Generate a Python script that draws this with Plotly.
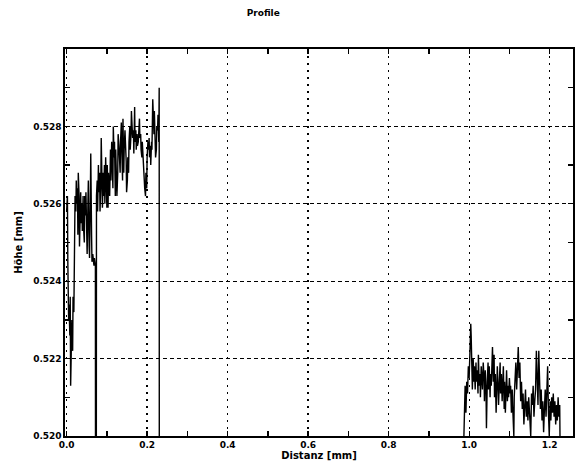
import plotly.graph_objects as go

# Profile data (distance in mm, height in mm); values below 0.520 are off-scale
dist_mm = [
    0.000, 0.002, 0.003, 0.005, 0.006, 0.008, 0.009, 0.010, 0.012, 0.013,
    0.015, 0.016, 0.018, 0.019, 0.020, 0.021, 0.023, 0.024, 0.025, 0.027,
    0.028, 0.029, 0.031, 0.032, 0.034, 0.035, 0.036, 0.038, 0.039, 0.041,
    0.042, 0.044, 0.045, 0.047, 0.048, 0.050, 0.051, 0.053, 0.054, 0.056,
    0.057, 0.059, 0.060, 0.062, 0.063, 0.065, 0.066, 0.068, 0.069, 0.070,
    0.0715, 0.0718, 0.0738, 0.0742, 0.076, 0.077, 0.079, 0.080, 0.082, 0.083,
    0.085, 0.086, 0.088, 0.089, 0.091, 0.092, 0.094, 0.095, 0.097, 0.098,
    0.100, 0.101, 0.103, 0.104, 0.106, 0.107, 0.109, 0.110, 0.112, 0.113,
    0.115, 0.116, 0.118, 0.119, 0.121, 0.122, 0.124, 0.125, 0.127, 0.128,
    0.130, 0.131, 0.133, 0.134, 0.136, 0.137, 0.139, 0.140, 0.142, 0.143,
    0.145, 0.146, 0.148, 0.149, 0.151, 0.152, 0.154, 0.155, 0.157, 0.158,
    0.160, 0.161, 0.163, 0.164, 0.166, 0.167, 0.169, 0.170, 0.172, 0.173,
    0.175, 0.176, 0.178, 0.179, 0.181, 0.182, 0.184, 0.185, 0.187, 0.188,
    0.190, 0.191, 0.193, 0.194, 0.196, 0.197, 0.199, 0.200, 0.202, 0.203,
    0.205, 0.206, 0.208, 0.209, 0.211, 0.212, 0.214, 0.215, 0.217, 0.218,
    0.220, 0.221, 0.223, 0.224, 0.226, 0.227, 0.229, 0.2300, 0.2303, 0.600,
    0.9860, 0.9870, 0.9880, 0.9900, 0.9920, 0.9940, 0.9960, 0.998, 1.000, 1.002,
    1.004, 1.005, 1.007, 1.008, 1.010, 1.012, 1.013, 1.015, 1.017, 1.018,
    1.020, 1.022, 1.023, 1.025, 1.027, 1.028, 1.030, 1.032, 1.033, 1.035,
    1.037, 1.038, 1.040, 1.042, 1.043, 1.045, 1.047, 1.048, 1.050, 1.052,
    1.053, 1.055, 1.057, 1.058, 1.060, 1.062, 1.063, 1.065, 1.067, 1.068,
    1.070, 1.072, 1.073, 1.075, 1.077, 1.078, 1.080, 1.082, 1.083, 1.085,
    1.087, 1.088, 1.090, 1.092, 1.093, 1.095, 1.097, 1.098, 1.100, 1.102,
    1.103, 1.105, 1.107, 1.108, 1.110, 1.111, 1.112, 1.114, 1.116, 1.118,
    1.120, 1.122, 1.124, 1.126, 1.128, 1.130, 1.132, 1.134, 1.136, 1.138,
    1.140, 1.142, 1.144, 1.146, 1.148, 1.150, 1.152, 1.153, 1.155, 1.157,
    1.159, 1.161, 1.163, 1.165, 1.167, 1.169, 1.171, 1.173, 1.175, 1.177,
    1.179, 1.181, 1.183, 1.185, 1.187, 1.189, 1.191, 1.193, 1.195, 1.197,
    1.199, 1.201, 1.203, 1.205, 1.207, 1.209, 1.211, 1.213, 1.215, 1.217,
    1.219, 1.221, 1.223, 1.225, 1.226, 1.2265,
]
hoehe_mm = [
    0.5258, 0.5262, 0.5245, 0.5230, 0.5234, 0.5226, 0.5236, 0.5213, 0.5224, 0.5230,
    0.5222, 0.5236, 0.5232, 0.5249, 0.5256, 0.5262, 0.5258, 0.5266, 0.5260, 0.5264,
    0.5252, 0.5268, 0.5262, 0.5249, 0.5258, 0.5263, 0.5255, 0.5260, 0.5253, 0.5262,
    0.5254, 0.5250, 0.5262, 0.5257, 0.5263, 0.5252, 0.5247, 0.5260, 0.5266, 0.5249,
    0.5246, 0.5262, 0.5273, 0.5252, 0.5245, 0.5247, 0.5245, 0.5244, 0.5246, 0.5245,
    0.5244, 0.5190, 0.5190, 0.5262, 0.5266, 0.5258, 0.5270, 0.5263, 0.5268, 0.5258,
    0.5265, 0.5277, 0.5260, 0.5259, 0.5268, 0.5262, 0.5270, 0.5260, 0.5272, 0.5265,
    0.5259, 0.5270, 0.5259, 0.5268, 0.5264, 0.5262, 0.5274, 0.5266, 0.5276, 0.5270,
    0.5264, 0.5280, 0.5272, 0.5276, 0.5262, 0.5274, 0.5268, 0.5262, 0.5268, 0.5278,
    0.5275, 0.5270, 0.5268, 0.5276, 0.5281, 0.5274, 0.5266, 0.5282, 0.5268, 0.5274,
    0.5279, 0.5277, 0.5271, 0.5263, 0.5266, 0.5272, 0.5268, 0.5276, 0.5280, 0.5274,
    0.5278, 0.5284, 0.5280, 0.5277, 0.5279, 0.5273, 0.5285, 0.5276, 0.5279, 0.5274,
    0.5278, 0.5275, 0.5276, 0.5280, 0.5282, 0.5277, 0.5278, 0.5274, 0.5272, 0.5276,
    0.5270, 0.5268, 0.5266, 0.5264, 0.5262, 0.5268, 0.5264, 0.5272, 0.5276, 0.5274,
    0.5277, 0.5272, 0.5275, 0.5270, 0.5276, 0.5274, 0.5287, 0.5280, 0.5278, 0.5284,
    0.5276, 0.5272, 0.5274, 0.5280, 0.5279, 0.5283, 0.5276, 0.5290, 0.5190, 0.5190,
    0.5190, 0.5200, 0.5205, 0.5213, 0.5206, 0.5214, 0.5211, 0.5218, 0.5215, 0.5222,
    0.5229, 0.5226, 0.5215, 0.5212, 0.5220, 0.5214, 0.5218, 0.5212, 0.5219, 0.5214,
    0.5217, 0.5211, 0.5221, 0.5213, 0.5216, 0.5210, 0.5218, 0.5214, 0.5212, 0.5219,
    0.5215, 0.5209, 0.5217, 0.5211, 0.5202, 0.5214, 0.5219, 0.5212, 0.5218, 0.5210,
    0.5216, 0.5213, 0.5220, 0.5223, 0.5214, 0.5221, 0.5210, 0.5216, 0.5206, 0.5213,
    0.5218, 0.5212, 0.5208, 0.5214, 0.5219, 0.5211, 0.5216, 0.5209, 0.5213, 0.5218,
    0.5207, 0.5214, 0.5206, 0.5212, 0.5217, 0.5209, 0.5213, 0.5210, 0.5215, 0.5211,
    0.5213, 0.5206, 0.5212, 0.5208, 0.5204, 0.5200, 0.5210, 0.5214, 0.5219, 0.5212,
    0.5217, 0.5223, 0.5215, 0.5219, 0.5209, 0.5214, 0.5207, 0.5211, 0.5203, 0.5208,
    0.5212, 0.5205, 0.5209, 0.5204, 0.5210, 0.5206, 0.5201, 0.5200, 0.5211, 0.5208,
    0.5213, 0.5205, 0.5209, 0.5212, 0.5222, 0.5214, 0.5208, 0.5222, 0.5210, 0.5207,
    0.5212, 0.5204, 0.5209, 0.5201, 0.5207, 0.5212, 0.5205, 0.5210, 0.5218, 0.5206,
    0.5200, 0.5209, 0.5204, 0.5210, 0.5206, 0.5211, 0.5205, 0.5209, 0.5203, 0.5208,
    0.5204, 0.5210, 0.5205, 0.5208, 0.5202, 0.5190,
]

x_ticks = [0.0, 0.2, 0.4, 0.6, 0.8, 1.0, 1.2]
x_ticklabels = ["0.0", "0.2", "0.4", "0.6", "0.8", "1.0", "1.2"]
y_ticks = [0.520, 0.522, 0.524, 0.526, 0.528]
y_ticklabels = ["0.520", "0.522", "0.524", "0.526", "0.528"]

x_range = [-0.004, 1.258]
y_range = [0.520, 0.530]
font_family = "DejaVu Sans"

fig = go.Figure()
fig.add_trace(go.Scatter(
    x=dist_mm, y=hoehe_mm, mode="lines",
    line=dict(color="black", width=1.4),
    showlegend=False, hoverinfo="skip",
))
# invisible trace to activate mirror axes (top / right) carrying the minor ticks
fig.add_trace(go.Scatter(
    x=[x_range[0]], y=[y_range[0]], xaxis="x2", yaxis="y2", mode="markers",
    marker=dict(opacity=0), showlegend=False, hoverinfo="skip",
))

minor_x = dict(dtick=0.1, tick0=0, ticks="inside", ticklen=5, tickcolor="black", tickwidth=1.3, showgrid=False)
minor_y = dict(dtick=0.001, tick0=0.520, ticks="inside", ticklen=5, tickcolor="black", tickwidth=1.3, showgrid=False)

fig.update_layout(
    width=576, height=476,
    margin=dict(l=65, r=3, t=49, b=40, autoexpand=False),
    paper_bgcolor="white", plot_bgcolor="white",
    font=dict(family=font_family, color="black", size=9),
    title=dict(text="<b>Profile</b>", x=0.457, xanchor="center", y=0.972, yanchor="middle",
               font=dict(family=font_family, size=9, color="black"), automargin=False),
    xaxis=dict(
        range=x_range, tickvals=x_ticks, ticktext=x_ticklabels, automargin=False,
        showline=True, linecolor="black", linewidth=1.6, mirror=True,
        ticks="inside", ticklen=0, tickcolor="black",
        showgrid=True, gridcolor="black", gridwidth=1.3, griddash="2px,5px",
        zeroline=False, minor=minor_x,
        tickfont=dict(size=9, family=font_family, weight="bold"),
        title=dict(text="Distanz [mm]", font=dict(size=10, family=font_family, weight="bold"), standoff=2),
    ),
    yaxis=dict(
        range=y_range, tickvals=y_ticks, ticktext=y_ticklabels, automargin=False,
        showline=True, linecolor="black", linewidth=1.6, mirror=True,
        ticks="inside", ticklen=0, tickcolor="black",
        showgrid=True, gridcolor="black", gridwidth=1.3, griddash="4px,3px",
        zeroline=False, minor=minor_y,
        tickfont=dict(size=9, family=font_family, weight="bold"),
        title=dict(text="Höhe [mm]", font=dict(size=10, family=font_family, weight="bold"), standoff=8),
    ),
    xaxis2=dict(
        range=x_range, overlaying="x", side="top", anchor="y", automargin=False,
        showline=False, showgrid=False, zeroline=False, showticklabels=False,
        tickvals=x_ticks, ticks="inside", ticklen=0, minor=minor_x,
    ),
    yaxis2=dict(
        range=y_range, overlaying="y", side="right", anchor="x", automargin=False,
        showline=False, showgrid=False, zeroline=False, showticklabels=False,
        tickvals=y_ticks, ticks="inside", ticklen=0, minor=minor_y,
    ),
)

fig.write_html(
    "out.html",
    config={"displayModeBar": False, "staticPlot": True},
    post_script="document.body.style.margin='0';document.body.style.overflow='hidden';",
)
